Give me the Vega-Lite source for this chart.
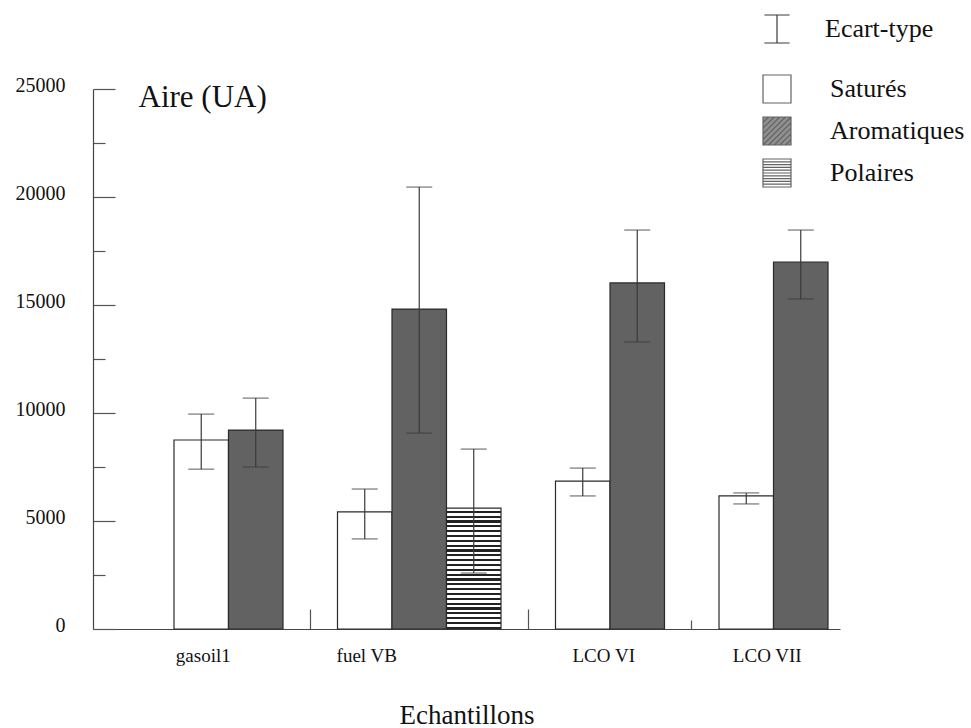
{
  "$schema": "https://vega.github.io/schema/vega-lite/v6.json",
  "width": 747,
  "height": 540,
  "autosize": {"type": "none"},
  "padding": {"left": 93, "top": 89, "right": 131, "bottom": 99},
  "background": "white",
  "config": {"view": {"stroke": null}, "font": "Liberation Serif"},
  "data": {
    "values": [
      {"sample": "gasoil1", "type": "Saturés", "value": 8750, "low": 7400, "high": 9950},
      {"sample": "gasoil1", "type": "Aromatiques", "value": 9210, "low": 7500, "high": 10690},
      {"sample": "fuel VB", "type": "Saturés", "value": 5420, "low": 4170, "high": 6480},
      {"sample": "fuel VB", "type": "Aromatiques", "value": 14810, "low": 9070, "high": 20460},
      {"sample": "fuel VB", "type": "Polaires", "value": 5600, "low": 2590, "high": 8330},
      {"sample": "LCO VI", "type": "Saturés", "value": 6850, "low": 6160, "high": 7450},
      {"sample": "LCO VI", "type": "Aromatiques", "value": 16020, "low": 13290, "high": 18470},
      {"sample": "LCO VII", "type": "Saturés", "value": 6160, "low": 5790, "high": 6300},
      {"sample": "LCO VII", "type": "Aromatiques", "value": 16990, "low": 15280, "high": 18470}
    ]
  },
  "transform": [{"calculate": "datum.sample + '|' + datum.type", "as": "key"}],
  "encoding": {
    "x": {
      "field": "key",
      "type": "nominal",
      "sort": null,
      "scale": {
        "domain": ["gasoil1|Saturés", "gasoil1|Aromatiques", "gap1", "fuel VB|Saturés", "fuel VB|Aromatiques", "fuel VB|Polaires", "gap2", "LCO VI|Saturés", "LCO VI|Aromatiques", "gap3", "LCO VII|Saturés", "LCO VII|Aromatiques"],
        "paddingInner": 0,
        "paddingOuter": 0.853,
        "align": 0.871,
        "round": false
      },
      "axis": {
        "title": "Echantillons",
        "titleFont": "Liberation Serif",
        "titleFontSize": 27,
        "titleFontWeight": "normal",
        "titleColor": "#111111",
        "titleY": 94,
        "titleBaseline": "alphabetic",
        "labelExpr": "indexof(datum.value, '|Saturés') > 0 ? split(datum.value, '|')[0] : ''",
        "labelOffset": {"condition": {"test": "indexof(datum.value, 'LCO') === 0", "value": 21}, "value": 2},
        "labelAngle": 0,
        "labelOverlap": false,
        "labelBound": false,
        "labelFont": "Liberation Serif",
        "labelFontSize": 19,
        "labelColor": "#111111",
        "labelPadding": 37,
        "domainColor": "#444",
        "domainWidth": 1.2,
        "tickSize": {"condition": {"test": "datum.value === 'gap3'", "value": -9}, "value": -20},
        "tickWidth": 1.2,
        "tickColor": {"condition": {"test": "indexof(datum.value, 'gap') === 0", "value": "#555"}, "value": "transparent"},
        "grid": false
      }
    }
  },
  "layer": [
    {
      "mark": {"type": "point", "color": "#222222", "strokeWidth": 1.2, "size": 90},
      "encoding": {
        "y": {"field": "low", "type": "quantitative", "scale": {"domain": [0, 25000], "nice": false}},
        "shape": {
          "field": "type",
          "type": "nominal",
          "scale": {
            "domain": ["Saturés", "Aromatiques", "Polaires"],
            "range": [
              "M-1,-1H1V1H-1Z",
              "M-1,-1H1V1H-1ZM-1,-0.6L-0.6,-1M-1,-0.2L-0.2,-1M-1,0.2L0.2,-1M-1,0.6L0.6,-1M-1,1L1,-1M-0.6,1L1,-0.6M-0.2,1L1,-0.2M0.2,1L1,0.2M0.6,1L1,0.6",
              "M-1,-1H1V1H-1ZM-1,-0.8H1M-1,-0.6H1M-1,-0.4H1M-1,-0.2H1M-1,0H1M-1,0.2H1M-1,0.4H1M-1,0.6H1M-1,0.8H1"
            ]
          },
          "legend": {
            "orient": "none",
            "legendX": 669,
            "legendY": -15,
            "title": null,
            "padding": 0,
            "symbolSize": 784,
            "symbolStrokeColor": "#222222",
            "symbolStrokeWidth": 1.2,
            "symbolFillColor": "#ffffff",
            "rowPadding": 8,
            "labelOffset": 38,
            "labelFont": "Liberation Serif",
            "labelFontSize": 26,
            "labelColor": "#111111"
          }
        }
      }
    },
    {
      "mark": {"type": "bar", "stroke": "#2a2a2a", "strokeWidth": 1.2},
      "encoding": {
        "y": {
          "field": "value",
          "type": "quantitative",
          "scale": {"domain": [0, 25000], "nice": false},
          "axis": {
            "title": "Aire (UA)",
            "titleAngle": 0,
            "titleX": 45,
            "titleY": 17,
            "titleAlign": "left",
            "titleBaseline": "alphabetic",
            "titleFont": "Liberation Serif",
            "titleFontSize": 31,
            "titleFontWeight": "normal",
            "titleColor": "#111111",
            "values": [0, 2500, 5000, 7500, 10000, 12500, 15000, 17500, 20000, 22500, 25000],
            "format": "d",
            "labelExpr": "datum.value % 5000 === 0 ? datum.label : ''",
            "labelFont": "Liberation Serif",
            "labelFontSize": 20,
            "labelColor": "#111111",
            "labelPadding": 50,
            "labelOffset": -4,
            "tickSize": {"condition": {"test": "datum.value % 5000 === 0", "value": -22}, "value": -12},
            "tickColor": "#555",
            "tickWidth": 1.2,
            "domainColor": "#444",
            "domainWidth": 1.2,
            "grid": false
          }
        },
        "fill": {
          "field": "type",
          "type": "nominal",
          "condition": {
            "test": "datum.type === 'Polaires'",
            "value": {
              "gradient": "linear",
              "x1": 0, "y1": 0, "x2": 0, "y2": 1,
              "stops": [
                {"offset": 0, "color": "#fff"}, {"offset": 0.022, "color": "#fff"}, {"offset": 0.022, "color": "#222"}, {"offset": 0.04, "color": "#222"},
                {"offset": 0.04, "color": "#fff"}, {"offset": 0.062, "color": "#fff"}, {"offset": 0.062, "color": "#222"}, {"offset": 0.08, "color": "#222"},
                {"offset": 0.08, "color": "#fff"}, {"offset": 0.102, "color": "#fff"}, {"offset": 0.102, "color": "#222"}, {"offset": 0.12, "color": "#222"},
                {"offset": 0.12, "color": "#fff"}, {"offset": 0.142, "color": "#fff"}, {"offset": 0.142, "color": "#222"}, {"offset": 0.16, "color": "#222"},
                {"offset": 0.16, "color": "#fff"}, {"offset": 0.182, "color": "#fff"}, {"offset": 0.182, "color": "#222"}, {"offset": 0.2, "color": "#222"},
                {"offset": 0.2, "color": "#fff"}, {"offset": 0.222, "color": "#fff"}, {"offset": 0.222, "color": "#222"}, {"offset": 0.24, "color": "#222"},
                {"offset": 0.24, "color": "#fff"}, {"offset": 0.262, "color": "#fff"}, {"offset": 0.262, "color": "#222"}, {"offset": 0.28, "color": "#222"},
                {"offset": 0.28, "color": "#fff"}, {"offset": 0.302, "color": "#fff"}, {"offset": 0.302, "color": "#222"}, {"offset": 0.32, "color": "#222"},
                {"offset": 0.32, "color": "#fff"}, {"offset": 0.342, "color": "#fff"}, {"offset": 0.342, "color": "#222"}, {"offset": 0.36, "color": "#222"},
                {"offset": 0.36, "color": "#fff"}, {"offset": 0.382, "color": "#fff"}, {"offset": 0.382, "color": "#222"}, {"offset": 0.4, "color": "#222"},
                {"offset": 0.4, "color": "#fff"}, {"offset": 0.422, "color": "#fff"}, {"offset": 0.422, "color": "#222"}, {"offset": 0.44, "color": "#222"},
                {"offset": 0.44, "color": "#fff"}, {"offset": 0.462, "color": "#fff"}, {"offset": 0.462, "color": "#222"}, {"offset": 0.48, "color": "#222"},
                {"offset": 0.48, "color": "#fff"}, {"offset": 0.502, "color": "#fff"}, {"offset": 0.502, "color": "#222"}, {"offset": 0.52, "color": "#222"},
                {"offset": 0.52, "color": "#fff"}, {"offset": 0.542, "color": "#fff"}, {"offset": 0.542, "color": "#222"}, {"offset": 0.56, "color": "#222"},
                {"offset": 0.56, "color": "#fff"}, {"offset": 0.582, "color": "#fff"}, {"offset": 0.582, "color": "#222"}, {"offset": 0.6, "color": "#222"},
                {"offset": 0.6, "color": "#fff"}, {"offset": 0.622, "color": "#fff"}, {"offset": 0.622, "color": "#222"}, {"offset": 0.64, "color": "#222"},
                {"offset": 0.64, "color": "#fff"}, {"offset": 0.662, "color": "#fff"}, {"offset": 0.662, "color": "#222"}, {"offset": 0.68, "color": "#222"},
                {"offset": 0.68, "color": "#fff"}, {"offset": 0.702, "color": "#fff"}, {"offset": 0.702, "color": "#222"}, {"offset": 0.72, "color": "#222"},
                {"offset": 0.72, "color": "#fff"}, {"offset": 0.742, "color": "#fff"}, {"offset": 0.742, "color": "#222"}, {"offset": 0.76, "color": "#222"},
                {"offset": 0.76, "color": "#fff"}, {"offset": 0.782, "color": "#fff"}, {"offset": 0.782, "color": "#222"}, {"offset": 0.8, "color": "#222"},
                {"offset": 0.8, "color": "#fff"}, {"offset": 0.822, "color": "#fff"}, {"offset": 0.822, "color": "#222"}, {"offset": 0.84, "color": "#222"},
                {"offset": 0.84, "color": "#fff"}, {"offset": 0.862, "color": "#fff"}, {"offset": 0.862, "color": "#222"}, {"offset": 0.88, "color": "#222"},
                {"offset": 0.88, "color": "#fff"}, {"offset": 0.902, "color": "#fff"}, {"offset": 0.902, "color": "#222"}, {"offset": 0.92, "color": "#222"},
                {"offset": 0.92, "color": "#fff"}, {"offset": 0.942, "color": "#fff"}, {"offset": 0.942, "color": "#222"}, {"offset": 0.96, "color": "#222"},
                {"offset": 0.96, "color": "#fff"}, {"offset": 0.982, "color": "#fff"}, {"offset": 0.982, "color": "#222"}, {"offset": 1, "color": "#222"}
              ]
            }
          },
          "scale": {"domain": ["Saturés", "Aromatiques", "Polaires"], "range": ["#ffffff", "#626262", "#ffffff"]},
          "legend": null
        }
      }
    },
    {
      "mark": {"type": "rule", "strokeWidth": 1.2},
      "encoding": {
        "y": {"field": "low", "type": "quantitative"},
        "y2": {"field": "high"},
        "stroke": {
          "datum": "Ecart-type",
          "type": "nominal",
          "scale": {"range": ["#3a3a3a"]},
          "legend": {
            "orient": "none",
            "legendX": 669,
            "legendY": -75,
            "title": null,
            "padding": 0,
            "symbolType": "M-0.9,-1H0.9M0,-1V1M-0.9,1H0.9",
            "symbolSize": 784,
            "symbolStrokeWidth": 1.2,
            "labelOffset": 33,
            "labelFont": "Liberation Serif",
            "labelFontSize": 26,
            "labelColor": "#111111"
          }
        }
      }
    },
    {
      "mark": {"type": "tick", "size": 26, "thickness": 1.2, "color": "#3a3a3a"},
      "encoding": {"y": {"field": "low", "type": "quantitative"}}
    },
    {
      "mark": {"type": "tick", "size": 26, "thickness": 1.2, "color": "#3a3a3a"},
      "encoding": {"y": {"field": "high", "type": "quantitative"}}
    }
  ]
}
